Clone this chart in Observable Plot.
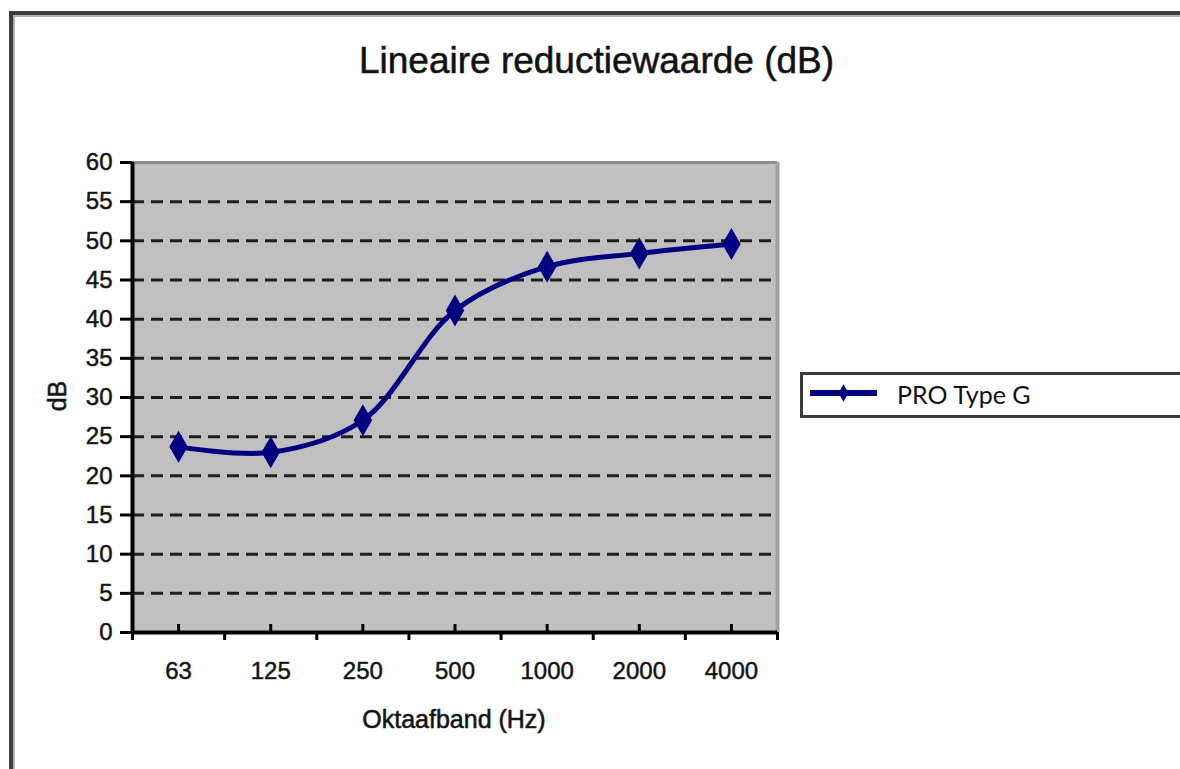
<!DOCTYPE html>
<html>
<head>
<meta charset="utf-8">
<script src="https://cdn.jsdelivr.net/npm/d3@7"></script>
<script src="https://cdn.jsdelivr.net/npm/@observablehq/plot@0.6"></script>
<style>
  html, body { margin: 0; padding: 0; background: #fff; overflow: hidden; }
  #wrap { position: relative; width: 1180px; height: 769px; overflow: hidden; background: #fff; }
  #frame { position: absolute; left: 9px; top: 11px; width: 1300px; height: 900px;
           border-left: 4px solid #3e3e3e; border-top: 4px solid #3e3e3e;
           box-shadow: inset 2px 2px 0 #b0b0b0; }
  #chart { position: absolute; left: 0; top: 0; }
  #chart svg text { stroke: #222; stroke-width: 0.5px; }
  .lbl { position: absolute; font-family: "Liberation Sans", Arial, sans-serif; color: #111; white-space: nowrap;
         -webkit-text-stroke: 0.6px #222; }
  #title { left: 0; width: 1193px; text-align: center; top: 39px; font-size: 37px; line-height: 44px; }
  #xlabel { left: 354px; width: 200px; text-align: center; top: 704px; font-size: 25px; line-height: 30px; }
  #ylabel { left: 57px; top: 396px; font-size: 25px; line-height: 30px; transform: translate(-50%, -50%) rotate(-90deg); }
  #legend { position: absolute; left: 800px; top: 372px; width: 420px; height: 40px;
            border: 3px solid #3a3a3a; background: #fff; }
</style>
</head>
<body>
<div id="wrap">
  <div id="frame"></div>
  <div id="chart"></div>
  <div class="lbl" id="title">Lineaire reductiewaarde (dB)</div>
  <div class="lbl" id="xlabel">Oktaafband (Hz)</div>
  <div class="lbl" id="ylabel">dB</div>
  <div id="legend"></div>
</div>
<script>
// ---- data ----
const categories = ["63", "125", "250", "500", "1000", "2000", "4000"];
const values = [23.7, 23.0, 27.1, 41.1, 46.7, 48.4, 49.6];
const seriesName = "PRO Type G";
const yTicks = [0, 5, 10, 15, 20, 25, 30, 35, 40, 45, 50, 55, 60];
const gridValues = [5, 10, 15, 20, 25, 30, 35, 40, 45, 50, 55];

const lineColor = "#000080";
const data = categories.map((c, i) => ({i, cat: c, v: values[i]}));
const idx = categories.map((c, i) => i);
const bounds = categories.map((c, i) => i - 0.5).concat([categories.length - 0.5]);

const chart = Plot.plot({
  width: 1180,
  height: 769,
  marginLeft: 132,
  marginRight: 403,
  marginTop: 162,
  marginBottom: 137,
  x: {type: "linear", domain: [-0.5, categories.length - 0.5]},
  y: {domain: [0, 60]},
  style: {background: "transparent", fontFamily: "'Liberation Sans', Arial, sans-serif", fontSize: "24px", color: "#111"},
  marks: [
    Plot.frame({fill: "#c0c0c0", stroke: "none"}),
    Plot.ruleY(gridValues, {stroke: "#1e1e1e", strokeWidth: 3, strokeDasharray: "12,7"}),
    Plot.ruleY([60], {stroke: "#8c8c8c", strokeWidth: 3}),
    Plot.ruleX([categories.length - 0.5], {stroke: "#a2a2a2", strokeWidth: 4}),
    Plot.axisY(yTicks, {tickSize: 12, tickPadding: 8, stroke: "#000", strokeWidth: 3, label: null, fill: "#111"}),
    Plot.axisX(idx, {tickSize: 0, tickPadding: 29, tickFormat: i => categories[i], label: null, fill: "#111"}),
    Plot.axisX(bounds, {tickSize: 8, tickFormat: () => "", stroke: "#000", strokeWidth: 3, label: null}),
    Plot.axisX(idx, {tickSize: -8, tickFormat: () => "", stroke: "#000", strokeWidth: 3, label: null}),
    Plot.ruleX([-0.5], {stroke: "#000", strokeWidth: 4}),
    Plot.ruleY([0], {stroke: "#000", strokeWidth: 4}),
    Plot.line(data, {x: "i", y: "v", curve: "catmull-rom", stroke: lineColor, strokeWidth: 5}),
    Plot.dot(data, {x: "i", y: "v", symbol: "diamond", r: 8.5, fill: lineColor, stroke: lineColor, strokeWidth: 2})
  ]
});
document.getElementById("chart").appendChild(chart);

// ---- legend ----
const legend = d3.select("#legend").append("svg")
  .attr("width", 420).attr("height", 40)
  .style("position", "absolute").style("left", "0px").style("top", "0px");
legend.append("line").attr("x1", 7).attr("x2", 74).attr("y1", 18).attr("y2", 18)
  .attr("stroke", lineColor).attr("stroke-width", 6);
legend.append("path").attr("d", d3.symbol(d3.symbolDiamond, 90)()).attr("transform", "translate(40.5,18)")
  .attr("fill", lineColor);
legend.append("text").attr("x", 94).attr("y", 29).text(seriesName)
  .attr("font-family", "Lato, 'Open Sans', sans-serif").attr("font-size", 25).attr("fill", "#111");
</script>
</body>
</html>
